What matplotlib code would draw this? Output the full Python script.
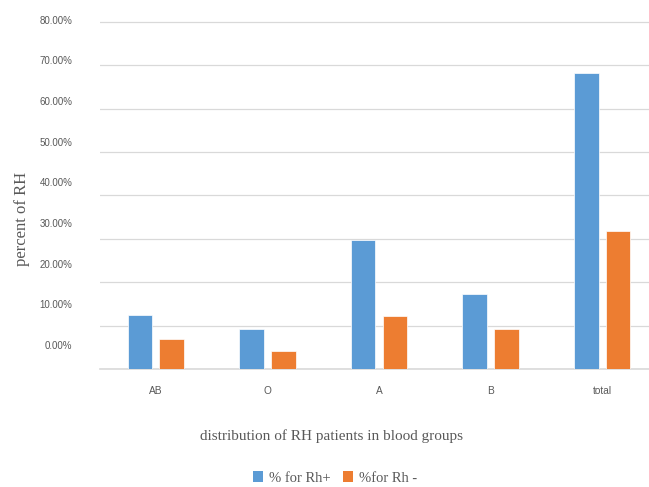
import numpy as np
import matplotlib
matplotlib.use("Agg")
import matplotlib.pyplot as plt
from matplotlib.patches import Patch

# data
groups = ["AB", "O", "A", "B", "total"]
rh_pos = [12.4, 9.3, 29.8, 17.3, 68.2]
rh_neg = [7.0, 4.1, 12.1, 9.3, 31.9]
ytick_values = [0, 10, 20, 30, 40, 50, 60, 70, 80]

blue = "#5B9BD5"
orange = "#ED7D31"
grid_c = "#D9D9D9"
text_c = "#595959"

fig = plt.figure(figsize=(6.49, 4.87), dpi=100)
ax = fig.add_axes([100 / 649, 118 / 487, 558 / 649, 349.5 / 487])

x = np.arange(len(groups))
w = 0.22
off = 0.143
ax.bar(x - off, rh_pos, w, color=blue, edgecolor="white", linewidth=0.5, zorder=3)
ax.bar(x + off, rh_neg, w, color=orange, edgecolor="white", linewidth=0.5, zorder=3)

ax.set_xlim(-0.5, len(groups) - 0.5)
ax.set_ylim(0, 80)

# gridlines at every 10 %, labels sit slightly off them as in the original
ax.set_yticks(ytick_values, minor=True)
label_pos = [5.5 + i * 9.375 for i in range(len(ytick_values))]
ax.set_yticks(label_pos, labels=[f"{v:.2f}%" for v in ytick_values])
ax.yaxis.grid(True, which="minor", color=grid_c, linewidth=0.9, zorder=0)
ax.tick_params(axis="y", which="both", length=0, pad=20, labelsize=7, labelcolor=text_c)

ax.set_xticks(x, labels=groups)
ax.tick_params(axis="x", length=0, pad=12, labelsize=7.3, labelcolor=text_c)

for s in ["top", "right", "left"]:
    ax.spines[s].set_visible(False)
ax.spines["bottom"].set_color(grid_c)
ax.spines["bottom"].set_linewidth(1.2)

serif = "Liberation Serif"
for t in ax.get_xticklabels() + ax.get_yticklabels():
    t.set_fontfamily("Liberation Sans")

fig.text(22 / 649, 1 - 219 / 487, "percent of RH", rotation=90, ha="center", va="center",
         fontsize=12, family=serif, color=text_c)
fig.text(331 / 649, 1 - 436 / 487, "distribution of RH patients in blood groups",
         ha="center", va="center", fontsize=11, family=serif, color=text_c)

handles = [Patch(facecolor=blue), Patch(facecolor=orange)]
fig.legend(handles, ["% for Rh+", "%for Rh -"], loc="center", ncol=2,
           bbox_to_anchor=(335 / 649, 1 - 478 / 487), frameon=False,
           handlelength=0.7, handleheight=0.7, handletextpad=0.4, columnspacing=0.8,
           prop={"family": serif, "size": 10.5}, labelcolor=text_c)

fig.savefig("out.png", dpi=100)
